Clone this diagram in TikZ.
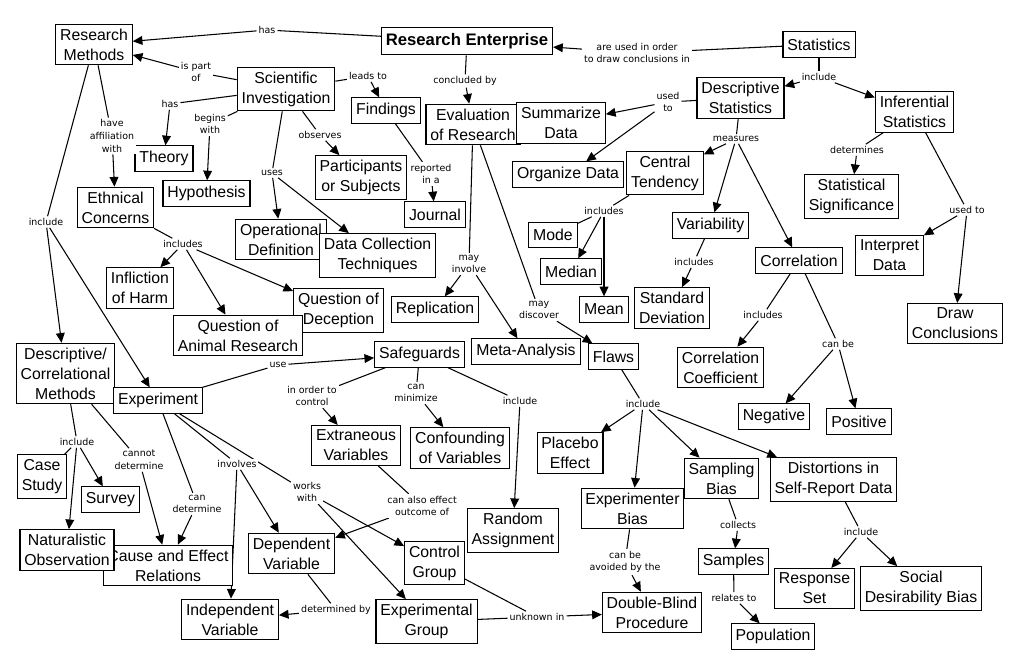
\documentclass[tikz,border=0pt]{standalone}
\usepackage{fontspec}
\setmainfont{Liberation Sans}
\newfontfamily\linkfont{DejaVu Sans}
\usetikzlibrary{arrows.meta,backgrounds}

\begin{document}
\begin{tikzpicture}[x=0.02cm, y=-0.02cm, >={Triangle[length=5.5pt,width=5pt]},
    concept/.style={draw, fill=white, line width=0.6pt, inner xsep=2.5pt, inner ysep=2.6pt,
        minimum height=14.4pt, align=center, font=\fontsize{9}{11.3}\selectfont},
    link/.style={fill=white, inner sep=1pt, align=center, font=\linkfont\fontsize{5.4}{7.2}\selectfont},
    conn/.style={line width=0.6pt}]
    \useasboundingbox (0,0) rectangle (1016,669);

    % concepts
    \node[concept] (RM) at (94,44.5) {Research\\Methods};
    \node[concept, font=\fontsize{9.5}{11.3}\selectfont\bfseries, minimum height=15.9pt] (RE) at (467,41) {Research Enterprise};
    \node[concept] (stat) at (819,44.5) {Statistics};
    \node[concept] (sci) at (286,89) {Scientific\\Investigation};
    \node[concept] (find) at (386,110.5) {Findings};
    \node[concept] (eval) at (473,124.5) {Evaluation\\of Research};
    \node[concept] (summ) at (561,123) {Summarize\\Data};
    \node[concept] (desc) at (740.5,98) {Descriptive\\Statistics};
    \node[concept] (infer) at (914.5,112) {Inferential\\Statistics};
    \node[concept] (theory) at (164,158.5) {Theory};
    \node[concept] (hyp) at (206.5,193.5) {Hypothesis};
    \node[concept] (part) at (361,177.5) {Participants\\or Subjects};
    \node[concept] (ethic) at (115.5,207.5) {Ethnical\\Concerns};
    \node[concept] (org) at (568,174.5) {Organize Data};
    \node[concept] (central) at (665,173) {Central\\Tendency};
    \node[concept] (journal) at (435,214.5) {Journal};
    \node[concept] (sig) at (851.5,196.5) {Statistical\\Significance};
    \node[concept] (oper) at (281,239.5) {Operational\\Definition};
    \node[concept] (datacol) at (377.5,255.5) {Data Collection\\Techniques};
    \node[concept] (mode) at (553,235) {Mode};
    \node[concept] (var) at (710.5,225.5) {Variability};
    \node[concept] (median) at (571,271.5) {Median};
    \node[concept] (mean) at (604,309.5) {Mean};
    \node[concept] (sd) at (672,308) {Standard\\Deviation};
    \node[concept] (corr) at (799,260.5) {Correlation};
    \node[concept] (interp) at (889.5,255.5) {Interpret\\Data};
    \node[concept] (concl) at (955,323.5) {Draw\\Conclusions};
    \node[concept] (harm) at (140,288) {Infliction\\of Harm};
    \node[concept] (decep) at (338.5,310.5) {Question of\\Deception};
    \node[concept] (animal) at (238,335.5) {Question of\\Animal Research};
    \node[concept] (repl) at (435,309.5) {Replication};
    \node[concept] (meta) at (526,351.5) {Meta-Analysis};
    \node[concept] (flaws) at (613.5,356.5) {Flaws};
    \node[concept] (corrco) at (720.5,367.5) {Correlation\\Coefficient};
    \node[concept] (neg) at (774,416.5) {Negative};
    \node[concept] (pos) at (859,421.5) {Positive};
    \node[concept] (dcm) at (65.5,373.5) {Descriptive/\\Correlational\\Methods};
    \node[concept] (exper) at (158,400.5) {Experiment};
    \node[concept] (safe) at (419.5,354.5) {Safeguards};
    \node[concept] (extra) at (356,445.5) {Extraneous\\Variables};
    \node[concept] (confound) at (460,448) {Confounding\\of Variables};
    \node[concept] (placebo) at (570,453) {Placebo\\Effect};
    \node[concept] (case) at (42,476.5) {Case\\Study};
    \node[concept] (survey) at (110.5,499.5) {Survey};
    \node[concept] (cause) at (168,565.5) {Cause and Effect\\Relations};
    \node[concept] (natural) at (67,550) {Naturalistic\\Observation};
    \node[concept] (dep) at (291.5,553.5) {Dependent\\Variable};
    \node[concept] (indep) at (230,619.5) {Independent\\Variable};
    \node[concept] (control) at (434.5,563) {Control\\Group};
    \node[concept] (expgroup) at (426.5,621.5) {Experimental\\Group};
    \node[concept] (random) at (513,530.5) {Random\\Assignment};
    \node[concept] (expbias) at (632.5,508.5) {Experimenter\\Bias};
    \node[concept] (blind) at (652,612.5) {Double-Blind\\Procedure};
    \node[concept] (sampbias) at (721.5,478.5) {Sampling\\Bias};
    \node[concept] (distort) at (833.5,479.5) {Distortions in\\Self-Report Data};
    \node[concept] (samples) at (733.5,561.5) {Samples};
    \node[concept] (pop) at (773,636.5) {Population};
    \node[concept] (resp) at (814.5,588.5) {Response\\Set};
    \node[concept] (social) at (921,588.5) {Social\\Desirability Bias};

    % linking phrases
    \node[link] (lhas) at (267,30) {has};
    \node[link] (lpartof) at (196,72) {is part\\of};
    \node[link] (lhas2) at (170,104) {has};
    \node[link] (lbegins) at (210,124) {begins\\with};
    \node[link] (laffil) at (112,136) {have\\affiliation\\with};
    \node[link] (lleads) at (368,76) {leads to};
    \node[link] (lobserves) at (320,135) {observes};
    \node[link] (luses) at (272,173) {uses};
    \node[link] (lconcl) at (465,81) {concluded by};
    \node[link] (lusedin) at (637,53) {are used in order\\to draw conclusions in};
    \node[link] (linclS) at (819,77) {include};
    \node[link] (lusedto) at (668,102) {used\\to};
    \node[link] (lreported) at (431,174) {reported\\in a};
    \node[link] (lmeasures) at (736,139) {measures};
    \node[link] (ldeterm) at (857,150) {determines};
    \node[link] (lusedto2) at (967,210) {used to};
    \node[link] (linclR) at (46,222) {include};
    \node[link] (linclE) at (183,244) {includes};
    \node[link] (linclC) at (604,211) {includes};
    \node[link] (linvolve) at (469,264) {may\\involve};
    \node[link] (ldiscover) at (539,310) {may\\discover};
    \node[link] (linclV) at (694,262) {includes};
    \node[link] (linclCo) at (763,315) {includes};
    \node[link] (lcanbe) at (838,344) {can be};
    \node[link] (luse) at (278,365) {use};
    \node[link] (lcontrol) at (312,396) {in order to\\control};
    \node[link] (lminimize) at (416,393) {can\\minimize};
    \node[link] (linclSa) at (520,401) {include};
    \node[link] (linclF) at (643,404) {include};
    \node[link] (linclD) at (77,442) {include};
    \node[link] (lcannot) at (139,460) {cannot\\determine};
    \node[link] (lcan) at (197,504) {can\\determine};
    \node[link] (linvolves) at (237,464) {involves};
    \node[link] (lworks) at (307,492) {works\\with};
    \node[link] (leffect) at (422,506) {can also effect\\outcome of};
    \node[link] (ldetby) at (336,610) {determined by};
    \node[link] (lunknown) at (537,617) {unknown in};
    \node[link] (lavoid) at (625,562) {can be\\avoided by the};
    \node[link] (lcollects) at (738,525) {collects};
    \node[link] (lrelates) at (734,598) {relates to};
    \node[link] (linclDi) at (861,532) {include};

    \begin{pgfonlayer}{background}
    \draw[conn] (RE) -- (lhas);
    \draw[conn, ->] (lhas) -- (RM);
    \draw[conn] (sci) -- (lpartof);
    \draw[conn, ->] (lpartof) -- (RM);
    \draw[conn] (sci) -- (lhas2);
    \draw[conn, ->] (lhas2) -- (theory);
    \draw[conn] (sci) -- (lbegins);
    \draw[conn, ->] (lbegins) -- (hyp);
    \draw[conn] (sci) -- (lleads);
    \draw[conn, ->] (lleads) -- (find);
    \draw[conn] (sci) -- (lobserves);
    \draw[conn, ->] (lobserves) -- (part);
    \draw[conn] (sci) -- (luses);
    \draw[conn, ->] (luses) -- (oper);
    \draw[conn, ->] (luses) -- (datacol);
    \draw[conn] (RM) -- (laffil);
    \draw[conn, ->] (laffil) -- (ethic);
    \draw[conn] (RM) -- (linclR);
    \draw[conn, ->] (linclR) -- (dcm);
    \draw[conn, ->] (linclR) -- (exper);
    \draw[conn] (find) -- (lreported);
    \draw[conn, ->] (lreported) -- (journal);
    \draw[conn] (RE) -- (lconcl);
    \draw[conn, ->] (lconcl) -- (eval);
    \draw[conn] (stat) -- (lusedin);
    \draw[conn, ->] (lusedin) -- (RE);
    \draw[conn] (stat) -- (linclS);
    \draw[conn, ->] (linclS) -- (desc);
    \draw[conn, ->] (linclS) -- (infer);
    \draw[conn] (desc) -- (lusedto);
    \draw[conn, ->] (lusedto) -- (summ);
    \draw[conn, ->] (lusedto) -- (org);
    \draw[conn] (desc) -- (lmeasures);
    \draw[conn, ->] (lmeasures) -- (central);
    \draw[conn, ->] (lmeasures) -- (var);
    \draw[conn, ->] (lmeasures) -- (corr);
    \draw[conn] (infer) -- (ldeterm);
    \draw[conn, ->] (ldeterm) -- (sig);
    \draw[conn] (infer) -- (lusedto2);
    \draw[conn, ->] (lusedto2) -- (interp);
    \draw[conn, ->] (lusedto2) -- (concl);
    \draw[conn] (ethic) -- (linclE);
    \draw[conn, ->] (linclE) -- (harm);
    \draw[conn, ->] (linclE) -- (animal);
    \draw[conn, ->] (linclE) -- (decep);
    \draw[conn] (central) -- (linclC);
    \draw[conn] (linclC) -- (mode);
    \draw[conn, ->] (linclC) -- (median);
    \draw[conn, ->] (linclC) -- (mean);
    \draw[conn] (eval) -- (linvolve);
    \draw[conn, ->] (linvolve) -- (repl);
    \draw[conn, ->] (linvolve) -- (meta);
    \draw[conn] (eval) -- (ldiscover);
    \draw[conn, ->] (ldiscover) -- (flaws);
    \draw[conn] (var) -- (linclV);
    \draw[conn, ->] (linclV) -- (sd);
    \draw[conn] (corr) -- (linclCo);
    \draw[conn, ->] (linclCo) -- (corrco);
    \draw[conn] (corr) -- (lcanbe);
    \draw[conn, ->] (lcanbe) -- (neg);
    \draw[conn, ->] (lcanbe) -- (pos);
    \draw[conn] (exper) -- (luse);
    \draw[conn, ->] (luse) -- (safe);
    \draw[conn] (safe) -- (lcontrol);
    \draw[conn, ->] (lcontrol) -- (extra);
    \draw[conn] (safe) -- (lminimize);
    \draw[conn, ->] (lminimize) -- (confound);
    \draw[conn] (safe) -- (linclSa);
    \draw[conn, ->] (linclSa) -- (random);
    \draw[conn] (flaws) -- (linclF);
    \draw[conn, ->] (linclF) -- (placebo);
    \draw[conn, ->] (linclF) -- (expbias);
    \draw[conn, ->] (linclF) -- (sampbias);
    \draw[conn, ->] (linclF) -- (distort);
    \draw[conn] (dcm) -- (linclD);
    \draw[conn] (linclD) -- (case);
    \draw[conn, ->] (linclD) -- (survey);
    \draw[conn, ->] (linclD) -- (natural);
    \draw[conn] (dcm) -- (lcannot);
    \draw[conn, ->] (lcannot) -- (cause);
    \draw[conn] (exper) -- (lcan);
    \draw[conn, ->] (lcan) -- (cause);
    \draw[conn] (exper) -- (linvolves);
    \draw[conn, ->] (linvolves) -- (indep);
    \draw[conn, ->] (linvolves) -- (dep);
    \draw[conn] (exper) -- (lworks);
    \draw[conn, ->] (lworks) -- (control);
    \draw[conn, ->] (lworks) -- (expgroup);
    \draw[conn] (extra) -- (leffect);
    \draw[conn, ->] (leffect) -- (dep);
    \draw[conn] (dep) -- (ldetby);
    \draw[conn, ->] (ldetby) -- (indep);
    \draw[conn] (control) -- (lunknown);
    \draw[conn] (expgroup) -- (lunknown);
    \draw[conn, ->] (lunknown) -- (blind);
    \draw[conn] (expbias) -- (lavoid);
    \draw[conn, ->] (lavoid) -- (blind);
    \draw[conn] (sampbias) -- (lcollects);
    \draw[conn, ->] (lcollects) -- (samples);
    \draw[conn] (samples) -- (lrelates);
    \draw[conn, ->] (lrelates) -- (pop);
    \draw[conn] (distort) -- (linclDi);
    \draw[conn, ->] (linclDi) -- (resp);
    \draw[conn, ->] (linclDi) -- (social);
    \end{pgfonlayer}
\end{tikzpicture}
\end{document}
